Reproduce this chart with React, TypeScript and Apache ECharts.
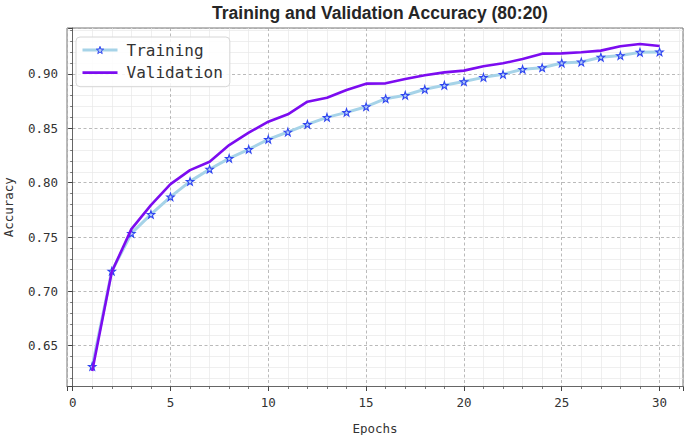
import React, { useEffect, useRef } from "react";
import * as echarts from "echarts";

const epochs = [1, 2, 3, 4, 5, 6, 7, 8, 9, 10, 11, 12, 13, 14, 15, 16, 17, 18, 19, 20, 21, 22, 23, 24, 25, 26, 27, 28, 29, 30];
const trainingAcc = [0.631, 0.7186, 0.7533, 0.7708, 0.787, 0.8012, 0.8124, 0.8224, 0.8307, 0.8399, 0.8466, 0.8537, 0.8601, 0.8647, 0.8699, 0.8773, 0.8804, 0.8859, 0.8896, 0.893, 0.8969, 0.8997, 0.9043, 0.9058, 0.9101, 0.911, 0.9154, 0.9169, 0.92, 0.9203];
const validationAcc = [0.6268, 0.718, 0.7573, 0.7794, 0.7987, 0.8116, 0.8193, 0.8346, 0.846, 0.8561, 0.8629, 0.8745, 0.8782, 0.8853, 0.8911, 0.8914, 0.8954, 0.8988, 0.9015, 0.9031, 0.9071, 0.9098, 0.9138, 0.9187, 0.919, 0.92, 0.9215, 0.9255, 0.9276, 0.9258];
const seriesNames = ["Training", "Validation"];
const titleText = "Training and Validation Accuracy (80:20)";

const STAR = "path://M0,-10L2.35,-3.24L9.51,-3.09L3.8,1.24L5.88,8.09L0,4L-5.88,8.09L-3.8,1.24L-9.51,-3.09L-2.35,-3.24Z";
const MONO = "DejaVu Sans Mono";

export default function App() {
  const ref = useRef<HTMLDivElement>(null);
  useEffect(() => {
    if (!ref.current) return;
    const chart = echarts.init(ref.current, null, { renderer: "svg" });
    const axisCommon = {
      axisLine: { show: true, lineStyle: { color: "#666", width: 1 } },
      axisTick: { show: true, inside: false, length: 4.5, lineStyle: { color: "#444", width: 1 } },
      minorTick: { show: true, splitNumber: 5, length: 2.5, lineStyle: { color: "#555", width: 0.8 } },
      splitLine: { show: true, lineStyle: { color: "#a8a8a8", width: 0.8, type: [3, 2.5] } },
      minorSplitLine: { show: true, lineStyle: { color: "#e8e8e8", width: 0.7 } },
      nameTextStyle: { fontFamily: MONO, fontSize: 12.5, color: "#333" },
    };
    chart.setOption({
      animation: false,
      backgroundColor: "#fff",
      title: {
        text: titleText,
        left: 375,
        textAlign: "center",
        top: -1.5,
        textStyle: { fontFamily: "Liberation Sans", fontWeight: "bold", fontSize: 17.5, color: "#262626" },
      },
      grid: {
        left: 67,
        right: 2,
        top: 28,
        bottom: 48.5,
        outerBoundsMode: "none",
        containLabel: false,
        show: true,
        borderColor: "#777",
        borderWidth: 1,
        backgroundColor: "transparent",
      },
      legend: {
        orient: "vertical",
        left: 76,
        top: 37,
        padding: [5, 7, 6, 5],
        itemWidth: 35,
        itemHeight: 9,
        itemGap: 6.7,
        backgroundColor: "rgba(255,255,255,0.85)",
        borderColor: "#d6d6d6",
        borderWidth: 1,
        borderRadius: 4,
        textStyle: { fontFamily: MONO, fontSize: 16, color: "#333", lineHeight: 16, padding: [0, 0, 0, 4] },
        data: [
          { name: seriesNames[0], itemStyle: { borderWidth: 1 }, lineStyle: { width: 3 } },
          { name: seriesNames[1], itemStyle: { opacity: 0 }, lineStyle: { width: 2.8 } },
        ],
      },
      xAxis: {
        type: "value",
        min: -0.29,
        max: 31.2,
        minInterval: 5,
        maxInterval: 5,
        splitNumber: 6,
        name: "Epochs",
        nameLocation: "middle",
        nameGap: 35,
        ...axisCommon,
        axisLabel: {
          showMinLabel: false,
          showMaxLabel: false,
          margin: 9,
          fontFamily: MONO,
          fontSize: 12.5,
          color: "#333",
        },
      },
      yAxis: {
        type: "value",
        min: 0.6125,
        max: 0.9423,
        minInterval: 0.05,
        maxInterval: 0.05,
        splitNumber: 7,
        name: "Accuracy",
        nameLocation: "middle",
        nameGap: 52,
        ...axisCommon,
        axisLabel: {
          showMinLabel: false,
          showMaxLabel: false,
          margin: 9,
          fontFamily: MONO,
          fontSize: 12.5,
          color: "#333",
          formatter: (v: number) => v.toFixed(2),
        },
      },
      series: [
        {
          name: seriesNames[0],
          type: "line",
          data: epochs.map((e, i) => [e, trainingAcc[i]]),
          symbol: STAR,
          symbolSize: 7.5,
          showAllSymbol: true,
          lineStyle: { color: "#a6d3e8", width: 3 },
          itemStyle: { color: "#b4ccf7", borderColor: "#2f45f0", borderWidth: 1.1 },
          z: 3,
        },
        {
          name: seriesNames[1],
          type: "line",
          data: epochs.map((e, i) => [e, validationAcc[i]]),
          symbol: "none",
          lineStyle: { color: "#7c0cf0", width: 2.6 },
          itemStyle: { color: "#7c0cf0" },
          z: 4,
        },
      ],
    });
    return () => chart.dispose();
  }, []);
  return <div ref={ref} style={{ position: "absolute", left: 0, top: 0, width: 685, height: 435 }} />;
}
